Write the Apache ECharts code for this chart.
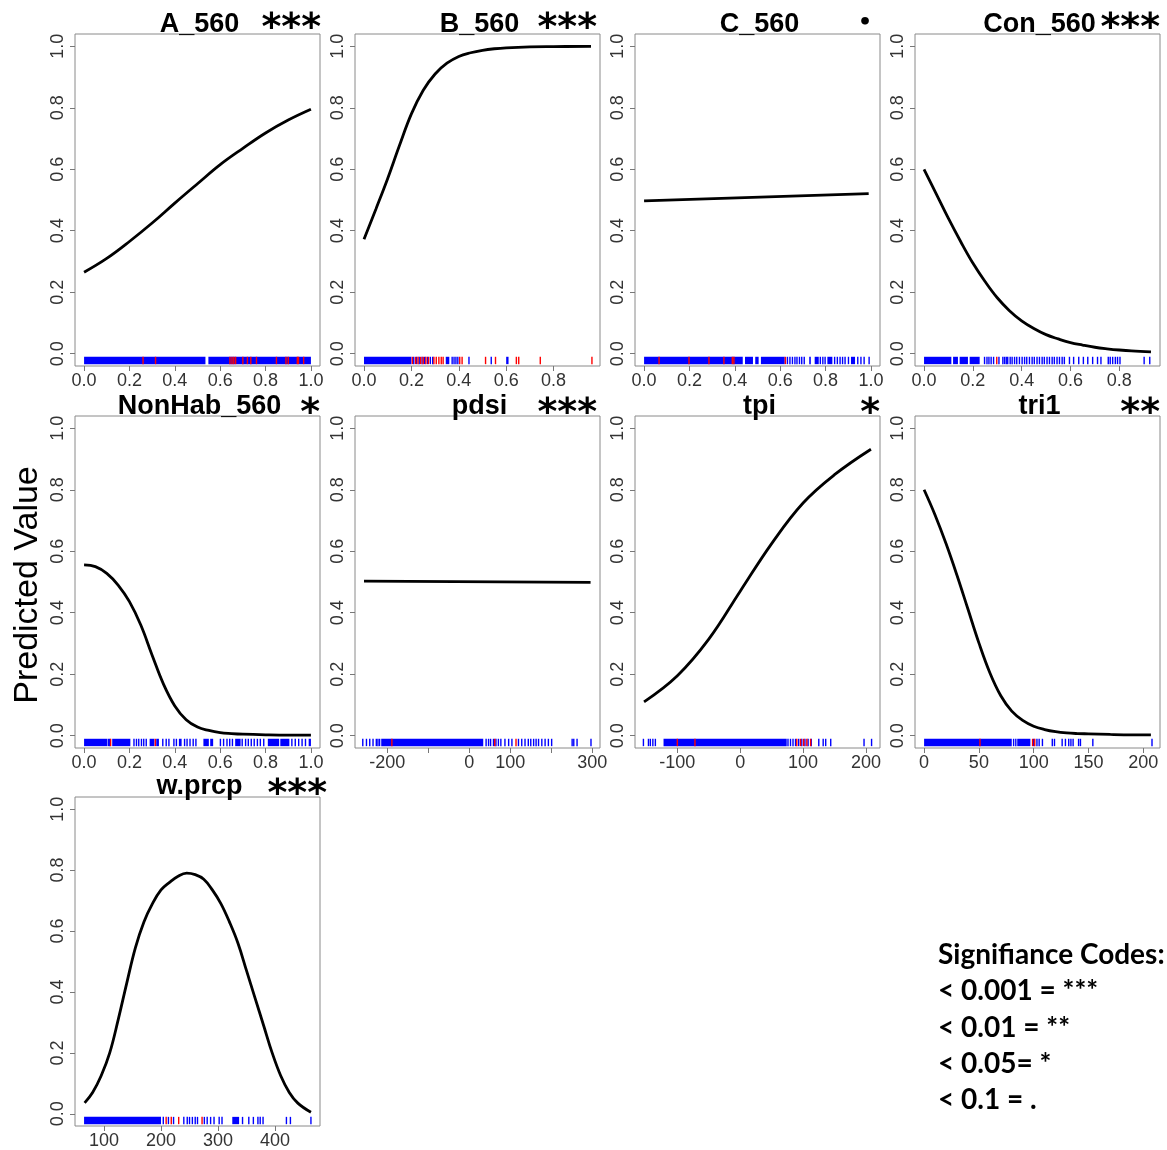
<!DOCTYPE html>
<html>
<head>
<meta charset="utf-8">
<script src="https://cdn.jsdelivr.net/npm/echarts@6/dist/echarts.min.js"></script>
<style>
  html, body { margin: 0; background: #fff; }
  #chart { width: 1167px; height: 1150px; }
</style>
</head>
<body>
<div id="chart"></div>
<script>
// predicted curves
var aX = [0, 0.1, 0.2, 0.3, 0.4, 0.5, 0.6, 0.7, 0.8, 0.9, 1.0];
var aY = [0.265, 0.31, 0.365, 0.425, 0.49, 0.553, 0.615, 0.668, 0.718, 0.76, 0.795];
var bX = [0, 0.05, 0.1, 0.15, 0.2, 0.25, 0.3, 0.35, 0.4, 0.45, 0.5, 0.55, 0.6, 0.7, 0.8, 0.958];
var bY = [0.372, 0.47, 0.57, 0.678, 0.78, 0.857, 0.91, 0.945, 0.967, 0.979, 0.987, 0.992, 0.995, 0.998, 0.999, 1.0];
var cX = [0, 0.99];
var cY = [0.497, 0.521];
var conX = [0, 0.05, 0.1, 0.15, 0.2, 0.25, 0.3, 0.35, 0.4, 0.45, 0.5, 0.55, 0.6, 0.65, 0.7, 0.75, 0.8, 0.85, 0.93];
var conY = [0.6, 0.52, 0.44, 0.365, 0.295, 0.235, 0.182, 0.14, 0.107, 0.082, 0.062, 0.048, 0.036, 0.028, 0.021, 0.016, 0.012, 0.009, 0.006];
var nonX = [0, 0.05, 0.1, 0.15, 0.2, 0.25, 0.3, 0.35, 0.4, 0.45, 0.5, 0.55, 0.6, 0.65, 0.7, 0.8, 0.9, 1.0];
var nonY = [0.556, 0.55, 0.528, 0.49, 0.436, 0.36, 0.262, 0.168, 0.097, 0.052, 0.028, 0.017, 0.01, 0.007, 0.005, 0.003, 0.002, 0.002];
var pdsiX = [-257, 296];
var pdsiY = [0.503, 0.499];
var tpiX = [-153, -100, -50, 0, 50, 100, 150, 208];
var tpiY = [0.11, 0.195, 0.314, 0.47, 0.625, 0.757, 0.849, 0.932];
var triX = [0, 10, 20, 30, 40, 50, 60, 70, 80, 90, 100, 110, 120, 130, 140, 150, 170, 190, 207];
var triY = [0.8, 0.718, 0.625, 0.522, 0.412, 0.302, 0.205, 0.13, 0.08, 0.05, 0.031, 0.02, 0.013, 0.009, 0.007, 0.006, 0.004, 0.003, 0.003];
var prcpX = [66, 80, 95, 110, 125, 140, 155, 170, 185, 200, 215, 230, 245, 260, 275, 290, 305, 320, 335, 350, 365, 380, 395, 410, 425, 440, 463];
var prcpY = [0.036, 0.07, 0.125, 0.2, 0.31, 0.43, 0.545, 0.63, 0.69, 0.735, 0.76, 0.78, 0.79, 0.785, 0.77, 0.735, 0.69, 0.63, 0.56, 0.47, 0.38, 0.29, 0.2, 0.125, 0.07, 0.035, 0.005];

// rug marks: single values or [from, to] solid runs
var aBlue = [[0, 0.535], [0.548, 1.0]];
var aRed = [0.26, 0.315, 0.643, 0.652, 0.66, 0.668, 0.70, 0.72, 0.735, 0.76, 0.848, 0.89, 0.9, 0.94, 0.945, 0.968];
var bBlue = [[0, 0.2], 0.21, 0.222, 0.233, 0.245, 0.256, 0.268, 0.28, 0.29, [0.345, 0.36], 0.372, 0.38, 0.388, 0.396, 0.443, 0.537, [0.6, 0.61]];
var bRed = [0.204, 0.218, 0.228, 0.239, 0.25, 0.261, 0.272, 0.295, 0.305, 0.316, 0.326, 0.334, 0.404, 0.414, 0.513, 0.555, 0.643, 0.653, 0.744, 0.962];
var cBlue = [[0, 0.435], [0.445, 0.48], [0.49, 0.505], [0.515, 0.62], 0.632, 0.643, 0.654, 0.665, 0.674, 0.685, 0.695, 0.706, [0.728, 0.735], [0.752, 0.77], 0.777, 0.788, 0.798, [0.808, 0.83], 0.84, 0.852, 0.864, 0.875, 0.886, 0.901, [0.912, 0.93], 0.942, 0.956, 0.97, 0.992];
var cRed = [0.066, 0.198, 0.286, 0.352, 0.389, 0.396, 0.623];
var conBlue = [[0, 0.112], [0.119, 0.139], [0.146, 0.18], [0.187, 0.228], 0.248, 0.258, 0.266, 0.275, 0.285, 0.307, 0.323, 0.33, 0.337, 0.343, 0.353, 0.361, 0.371, 0.38, 0.391, 0.402, 0.412, 0.421, 0.432, 0.443, 0.452, 0.463, 0.473, 0.484, 0.493, 0.504, 0.514, 0.525, 0.534, 0.545, 0.555, 0.566, 0.575, 0.596, 0.613, 0.634, 0.653, 0.671, 0.691, 0.711, 0.725, 0.755, 0.763, 0.773, 0.784, 0.793, 0.803, 0.902, 0.925];
var conRed = [0.298];
var nonBlue = [[0, 0.102], 0.107, 0.113, [0.124, 0.204], 0.22, 0.231, 0.241, 0.253, 0.263, 0.274, [0.289, 0.31], [0.318, 0.33], 0.347, 0.362, 0.374, 0.396, 0.407, [0.418, 0.43], 0.443, 0.454, 0.467, 0.481, 0.493, [0.526, 0.55], [0.556, 0.569], 0.601, 0.615, 0.63, 0.642, 0.654, [0.666, 0.69], 0.697, 0.712, 0.724, 0.737, 0.75, 0.764, 0.777, 0.792, [0.81, 0.86], [0.865, 0.905], 0.916, 0.931, 0.946, 0.961, 0.976, [0.99, 1.0]];
var nonRed = [0.117, 0.314];
var pdsiBlue = [-260, -251, -243, -235, -227, -223, -219, [-215, 34], 41, 47, 52, 59, 65, 71, 77, 87, 96, 104, 120, 128, 136, 144, 150, 157, 163, 169, 177, 185, 193, 201, 251, 255, 263, 297];
var pdsiRed = [-189, 62, 114];
var tpiBlue = [-154, -146, -143, -139, -135, [-122, 74], 76, 80, 84, 88, 93, 98, 103, 108, 113, 125, 132, 136, 144, 197, 209];
var tpiRed = [-100, -72, 90, 96, 101, 106, 112];
var triBlue = [[0, 80], 81.7, 83.7, [85, 97], 100, 103, 105, 108, 117, 119, 126, 129, 132, 134, 136, 141, 142.7, 154, 208];
var triRed = [51, 99, 101];
var prcpBlue = [[65, 200], 204, 213, 222, 240, 246, 250, 255, 260, 264, 276, 281, 287, 293, 302, 307, [325, 337], 343, 354, 362, 370, 374, 379, 420, 427, 463];
var prcpRed = [209, 218, 231, 272];

// axis ticks
var yTicks = [0, 0.2, 0.4, 0.6, 0.8, 1.0];
var unitTicks = [0, 0.2, 0.4, 0.6, 0.8, 1.0];
var unitTicks8 = [0, 0.2, 0.4, 0.6, 0.8];
var pdsiTicks = [-200, -100, 0, 100, 200, 300];
var pdsiLabels = [-200, 0, 100, 300];
var tpiTicks = [-100, 0, 100, 200];
var triTicks = [0, 50, 100, 150, 200];
var prcpTicks = [100, 200, 300, 400];

var panels = [
  { name: 'A_560', mark: '***', x: aX, y: aY, blue: aBlue, red: aRed, min: -0.04, max: 1.04, ticks: unitTicks, dec: 1, starX: 321 },
  { name: 'B_560', mark: '***', x: bX, y: bY, blue: bBlue, red: bRed, min: -0.038, max: 0.996, ticks: unitTicks8, dec: 1, starX: 597 },
  { name: 'C_560', mark: '•', x: cX, y: cY, blue: cBlue, red: cRed, min: -0.04, max: 1.04, ticks: unitTicks, dec: 1, starX: 865 },
  { name: 'Con_560', mark: '***', x: conX, y: conY, blue: conBlue, red: conRed, min: -0.037, max: 0.967, ticks: unitTicks8, dec: 1, starX: 1160 },
  { name: 'NonHab_560', mark: '*', x: nonX, y: nonY, blue: nonBlue, red: nonRed, min: -0.04, max: 1.04, ticks: unitTicks, dec: 1, starX: 320 },
  { name: 'pdsi', mark: '***', x: pdsiX, y: pdsiY, blue: pdsiBlue, red: pdsiRed, min: -279, max: 319, ticks: pdsiTicks, labels: pdsiLabels, dec: 0, starX: 597 },
  { name: 'tpi', mark: '*', x: tpiX, y: tpiY, blue: tpiBlue, red: tpiRed, min: -167.4, max: 222.4, ticks: tpiTicks, dec: 0, starX: 880 },
  { name: 'tri1', mark: '**', x: triX, y: triY, blue: triBlue, red: triRed, min: -8.3, max: 215.3, ticks: triTicks, dec: 0, starX: 1160 },
  { name: 'w.prcp', mark: '***', x: prcpX, y: prcpY, blue: prcpBlue, red: prcpRed, min: 49.1, max: 478.9, ticks: prcpTicks, dec: 0, starX: 327 }
];

var colLeft = [75, 355, 635, 915];
var rowTop = [34, 416, 797];
var titleY = [25, 407, 787];
var starY = [29, 414, 795];
var boxW = 245, boxH = 332;
var labelFont = '"Liberation Sans", Arial, sans-serif';

function toRuns(list) {
  return list.map(function (v) { return Array.isArray(v) ? v : [v, v]; });
}

function rugItem(params, api) {
  var a = api.coord([api.value(0), -0.01]);
  var b = api.coord([api.value(1), -0.034]);
  var w = b[0] - a[0];
  var x = a[0];
  if (w < 1.4) { x = a[0] - 0.7; w = 1.4; }
  return { type: 'rect', shape: { x: x, y: a[1], width: w, height: b[1] - a[1] }, style: { fill: api.visual('color') } };
}

var grids = [], xAxes = [], yAxes = [], series = [], graphics = [];

panels.forEach(function (p, i) {
  var row = Math.floor(i / 4), col = i % 4;
  grids.push({ left: colLeft[col], top: rowTop[row], width: boxW, height: boxH, show: true, borderColor: '#8a8a8a', borderWidth: 1, backgroundColor: '#fff' });
  xAxes.push({
    type: 'value', gridIndex: i, min: p.min, max: p.max,
    axisLine: { show: false, onZero: false }, splitLine: { show: false },
    axisTick: { show: true, length: 5, customValues: p.ticks, lineStyle: { color: '#777' } },
    axisLabel: {
      customValues: p.labels || p.ticks, margin: 6, fontSize: 18, color: '#333', fontFamily: labelFont,
      formatter: (function (d) { return function (v) { return v.toFixed(d); }; })(p.dec)
    }
  });
  yAxes.push({
    type: 'value', gridIndex: i, min: -0.04, max: 1.04,
    axisLine: { show: false, onZero: false }, splitLine: { show: false },
    axisTick: { show: true, length: 5, customValues: yTicks, lineStyle: { color: '#777' } },
    axisLabel: {
      customValues: yTicks, rotate: 90, margin: 8, fontSize: 18, color: '#333', fontFamily: labelFont,
      formatter: function (v) { return v.toFixed(1); }
    }
  });
  series.push({
    type: 'custom', xAxisIndex: i, yAxisIndex: i, renderItem: rugItem,
    encode: { x: [0, 1] }, itemStyle: { color: '#0000ff' }, data: toRuns(p.blue), silent: true
  });
  series.push({
    type: 'custom', xAxisIndex: i, yAxisIndex: i, renderItem: rugItem,
    encode: { x: [0, 1] }, itemStyle: { color: '#ff0000' }, data: toRuns(p.red), silent: true
  });
  series.push({
    type: 'line', xAxisIndex: i, yAxisIndex: i, showSymbol: false, smooth: 0.4,
    lineStyle: { color: '#000', width: 2.8 },
    data: p.x.map(function (v, k) { return [v, p.y[k]]; })
  });

  graphics.push({
    type: 'text', x: colLeft[col] + boxW / 2 + 2, y: titleY[row],
    style: { text: p.name, font: 'bold 27px ' + labelFont, fill: '#000', textAlign: 'center', textVerticalAlign: 'middle', align: 'center', verticalAlign: 'middle' }
  });
  var dot = p.mark === '•';
  graphics.push({
    type: 'text', x: p.starX, y: dot ? titleY[row] - 2 : starY[row],
    style: {
      text: p.mark, font: dot ? 'bold 22px "DejaVu Sans"' : 'bold 38px "DejaVu Sans"', fill: '#000',
      textAlign: dot ? 'center' : 'right', align: dot ? 'center' : 'right', textVerticalAlign: 'middle', verticalAlign: 'middle'
    }
  });
});

graphics.push({
  type: 'text', x: 28, y: 585, rotation: Math.PI / 2,
  style: { text: 'Predicted Value', font: '34px ' + labelFont, fill: '#000', textAlign: 'center', align: 'center', textVerticalAlign: 'middle', verticalAlign: 'middle' }
});

var codeLines = ['Signifiance Codes:', '< 0.001 = ***', '< 0.01 = **', '< 0.05= *', '< 0.1 = .'];
codeLines.forEach(function (t, k) {
  graphics.push({
    type: 'text', x: 938, y: 955 + k * 36.3,
    style: { text: t, font: 'bold 28px Lato, "Open Sans", sans-serif', fill: '#000', textAlign: 'left', align: 'left', textVerticalAlign: 'middle', verticalAlign: 'middle' }
  });
});

var chart = echarts.init(document.getElementById('chart'));
chart.setOption({
  animation: false,
  backgroundColor: '#fff',
  grid: grids,
  xAxis: xAxes,
  yAxis: yAxes,
  series: series,
  graphic: { elements: graphics }
});
</script>
</body>
</html>
